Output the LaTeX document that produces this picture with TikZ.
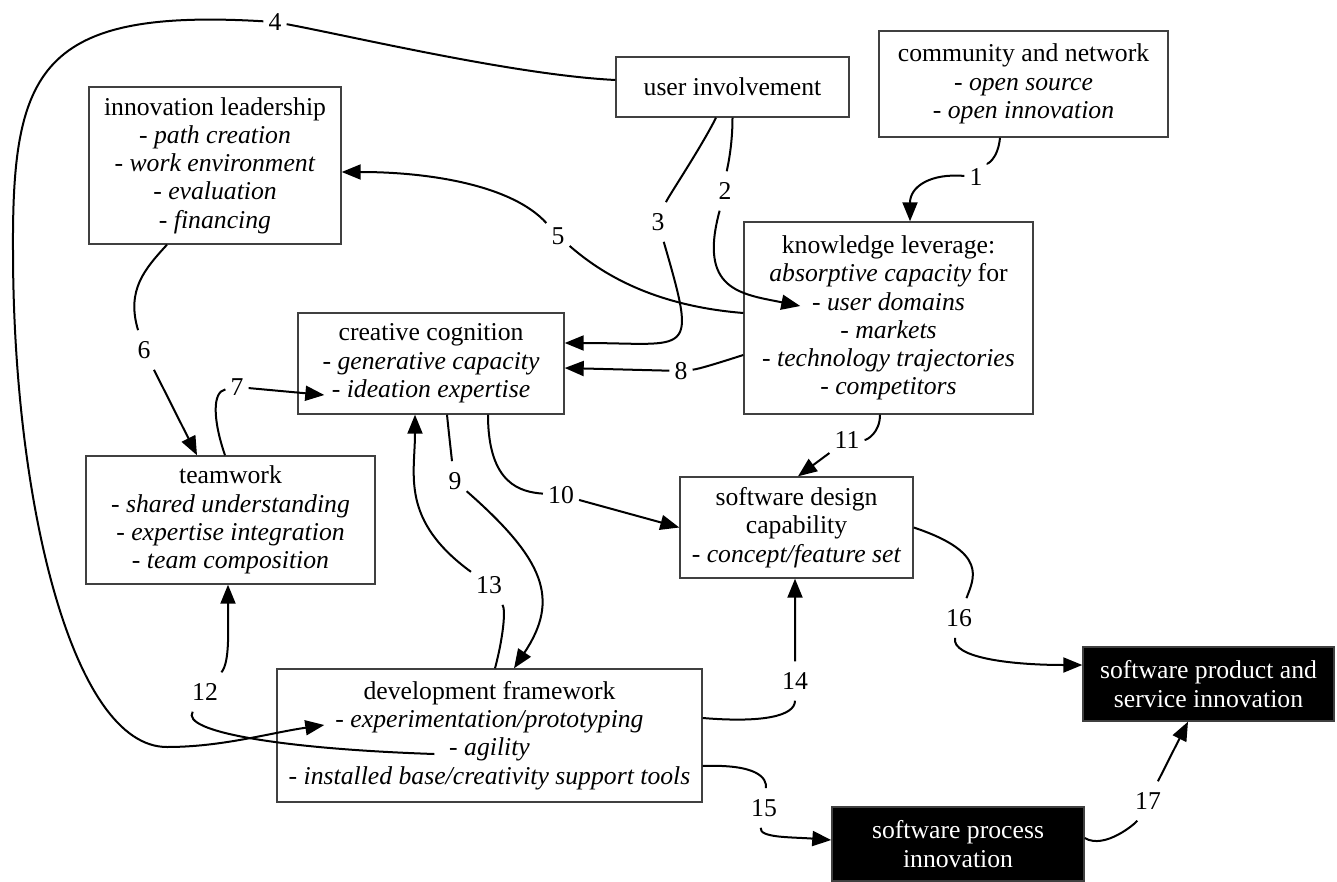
\documentclass[tikz,border=0pt]{standalone}
\usepackage{fontspec}
\setmainfont{Liberation Serif}
\usepackage{tikz}
\usetikzlibrary{arrows.meta}
\tikzstyle{box node}  = [draw=black!75, line width=1.4pt, align=center, inner sep=0pt]
\tikzstyle{dark node} = [box node, fill=black, text=white]
\tikzstyle{num node}  = [inner xsep=5pt, inner ysep=11pt]

\begin{document}
\begin{tikzpicture}[x=1pt, y=-1pt,
                    font=\fontsize{25.7pt}{28.3pt}\selectfont
                    ]
\tikzstyle{arc}=[line width=2pt, -{Triangle[length=19pt,width=15pt]}]
\useasboundingbox (0,0) rectangle (1337,882);

    % boxes
    \node(ui)[box node, minimum width=233pt, minimum height=60pt]  at (732.5,87)  {user involvement};
    \node(cn)[box node, minimum width=289pt, minimum height=106pt] at (1023.5,84) {community and network\\- \textit{open source}\\- \textit{open innovation}};
    \node(il)[box node, minimum width=252pt, minimum height=157pt] at (215,165.5)  {innovation leadership\\- \textit{path creation}\\- \textit{work environment}\\- \textit{evaluation}\\- \textit{financing}};
    \node(kl)[box node, minimum width=289pt, minimum height=192pt] at (888.5,318)  {knowledge leverage:\\\textit{absorptive capacity} for\\- \textit{user domains}\\- \textit{markets}\\- \textit{technology trajectories}\\- \textit{competitors}};
    \node(cc)[box node, minimum width=266pt, minimum height=101pt] at (431,363.5)  {creative cognition\\- \textit{generative capacity}\\- \textit{ideation expertise}};
    \node(tw)[box node, minimum width=289pt, minimum height=128pt] at (230.5,520)  {teamwork\\- \textit{shared understanding}\\- \textit{expertise integration}\\- \textit{team composition}};
    \node(sd)[box node, minimum width=233pt, minimum height=101pt] at (796.5,527.5) {software design\\capability\\- \textit{concept/feature set}};
    \node(df)[box node, minimum width=425pt, minimum height=133pt] at (489.5,735.5) {development framework\\- \textit{experimentation/prototyping}\\- \textit{agility}\\- \textit{installed base/creativity support tools}};
    \node(pi)[dark node, minimum width=251pt, minimum height=74pt]  at (1208.5,684) {software product and\\service innovation};
    \node(sp)[dark node, minimum width=252pt, minimum height=74pt]  at (958,844)    {software process\\innovation};

    % ends inside the boxes
    \coordinate(ud) at ([xshift=57pt,yshift=12pt]kl.west);
    \coordinate(ie) at ([xshift=27pt,yshift=-31.5pt]cc.west);
    \coordinate(ex) at ([xshift=48pt,yshift=10.5pt]df.west);
    \coordinate(ag) at ([xshift=158pt,yshift=-18.5pt]df.west);

    % numbers
    \node(l1)[num node]  at (976,177)  {1};
    \node(l2)[num node]  at (725,191)  {2};
    \node(l3)[num node]  at (658,222)  {3};
    \node(l4)[num node]  at (275,22)   {4};
    \node(l5)[num node]  at (558,236)  {5};
    \node(l6)[num node]  at (144,350)  {6};
    \node(l7)[num node]  at (237,387)  {7};
    \node(l8)[num node]  at (681,371)  {8};
    \node(l9)[num node]  at (455,481)  {9};
    \node(l10)[num node] at (561,495)  {10};
    \node(l11)[num node] at (847,440)  {11};
    \node(l12)[num node] at (205,692)  {12};
    \node(l13)[num node] at (489,585)  {13};
    \node(l14)[num node] at (795,681)  {14};
    \node(l15)[num node] at (764,808)  {15};
    \node(l16)[num node] at (959,618)  {16};
    \node(l17)[num node] at (1148,801) {17};

    \draw[arc]([xshift=-23.5pt]cn.south) .. controls +(-2,22) and +(10,-12) .. (l1) .. controls +(-45,-4) and +(0,-35) .. ([xshift=21.5pt]kl.north);
    \draw[arc](ui.south) .. controls +(0,30) and +(2,-22) .. (l2) .. controls +(-27,99) and +(-60,-12) .. (ud);
    \draw[arc]([xshift=-16.5pt]ui.south) .. controls +(-15,30) and +(10,-25) .. (l3) .. controls +(40,138) and +(126,0) .. ([yshift=20.5pt]cc.east);
    \draw[arc]([yshift=7pt]ui.west) .. controls +(-100,-5) and +(80,15) .. (l4) .. controls +(-235,-14) and +(-1,-180) .. (13,250) .. controls +(0,250) and +(-95,0) .. (167,747) .. controls +(55,0) and +(-55,8) .. (ex);
    \draw[arc]([yshift=5pt]kl.west) .. controls +(-100,-8) and +(35,30) .. (l5) .. controls +(-45,-50) and +(90,0) .. ([yshift=-6.5pt]il.east);
    \draw[arc]([xshift=-48pt]il.south) .. controls +(-22,24) and +(-18,-60) .. (l6) -- ([xshift=-33.5pt]tw.north);
    \draw[arc]([xshift=-5.5pt]tw.north) .. controls +(-12,-35) and +(-25,5) .. (l7) -- (ie);
    \draw[arc]([yshift=-37pt]kl.west) .. controls +(-25,8) and +(18,-2) .. (l8) -- ([yshift=-4.5pt]cc.east);
    \draw[arc]([xshift=16pt]cc.south) .. controls +(2,20) and +(-3,-20) .. (l9) .. controls +(90,79) and +(46,-69) .. ([xshift=24.5pt]df.north);
    \draw[arc]([xshift=57pt]cc.south) .. controls +(0,70) and +(-40,-3) .. (l10) -- (sd.west);
    \draw[arc]([xshift=-8.5pt]kl.south) .. controls +(0,18) and +(20,0) .. (l11) -- ([xshift=1.5pt]sd.north);
    \draw[arc](ag) .. controls +(-150,-5) and +(-25,40) .. (l12) .. controls +(25,-30) and +(0,45) .. ([xshift=-2.5pt]tw.south);
    \draw[arc]([xshift=5.5pt]df.north) .. controls +(8,-30) and +(17,25) .. (l13) .. controls +(-89,-65) and +(0,60) .. ([xshift=-16pt]cc.south);
    \draw[arc]([yshift=17.5pt]df.east) .. controls +(60,5) and +(0,35) .. (l14) -- ([xshift=-1.5pt]sd.south);
    \draw[arc]([yshift=-30.5pt]df.east) .. controls +(55,-2) and +(3,-30) .. (l15) .. controls +(-5,30) and +(-40,-3) .. ([yshift=4pt]sp.west);
    \draw[arc](sd.east) .. controls +(75,25) and +(15,-40) .. (l16) .. controls +(-8,40) and +(-70,0) .. ([yshift=19pt]pi.west);
    \draw[arc]([yshift=6pt]sp.east) .. controls +(20,12) and +(-12,22) .. (l17) -- ([xshift=-20.5pt]pi.south);

\end{tikzpicture}
\end{document}
